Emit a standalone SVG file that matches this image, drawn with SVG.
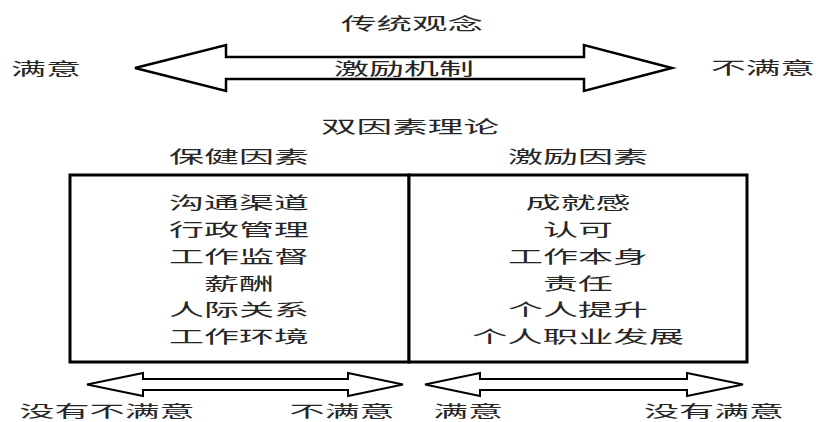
<svg xmlns="http://www.w3.org/2000/svg" width="816" height="422" viewBox="0 0 816 422">
<style>
text{font-family:"Noto Sans CJK SC","Noto Sans",sans-serif;font-size:17px;fill:#262626;text-anchor:middle;dominant-baseline:central}
text.low{font-size:16px}
.arrow{fill:#fff;stroke:#000;stroke-linejoin:miter}
.box{fill:#fff;stroke:#000;stroke-width:3}
</style>
<rect width="816" height="422" fill="#fff"/>
<g id="connectors">
<polygon class="arrow" stroke-width="2.5" points="135,68 226,45 226,57 584,57 584,45 672,68 584,91 584,79 226,79 226,91"/>
<polygon class="arrow" stroke-width="2" points="87,384.5 143,373 143,379 348,379 348,373 403,384.5 348,396 348,390 143,390 143,396"/>
<polygon class="arrow" stroke-width="2" points="425,384.5 480,373 480,379 687,379 687,373 743,384.5 687,396 687,390 480,390 480,396"/>
</g>
<g id="traditional">
<text x="412" y="22" textLength="142" lengthAdjust="spacingAndGlyphs">传统观念</text>
<text x="46" y="67" textLength="70" lengthAdjust="spacingAndGlyphs">满意</text>
<text x="404" y="67" textLength="140" lengthAdjust="spacingAndGlyphs">激励机制</text>
<text x="763" y="66" textLength="104" lengthAdjust="spacingAndGlyphs">不满意</text>
</g>
<g id="two-factor-title">
<text x="410" y="125" textLength="178" lengthAdjust="spacingAndGlyphs">双因素理论</text>
</g>
<g id="hygiene">
<text x="239" y="155" textLength="140" lengthAdjust="spacingAndGlyphs">保健因素</text>
<rect class="box" x="70" y="175" width="339" height="187"/>
<text x="239" y="201" textLength="140" lengthAdjust="spacingAndGlyphs">沟通渠道</text>
<text x="239" y="228" textLength="140" lengthAdjust="spacingAndGlyphs">行政管理</text>
<text x="239" y="255" textLength="140" lengthAdjust="spacingAndGlyphs">工作监督</text>
<text x="239" y="282" textLength="70" lengthAdjust="spacingAndGlyphs">薪酬</text>
<text x="239" y="308" textLength="140" lengthAdjust="spacingAndGlyphs">人际关系</text>
<text x="239" y="335" textLength="140" lengthAdjust="spacingAndGlyphs">工作环境</text>
</g>
<g id="motivators">
<text x="578" y="155" textLength="140" lengthAdjust="spacingAndGlyphs">激励因素</text>
<rect class="box" x="409" y="175" width="338" height="187"/>
<text x="578" y="201" textLength="105" lengthAdjust="spacingAndGlyphs">成就感</text>
<text x="578" y="228" textLength="70" lengthAdjust="spacingAndGlyphs">认可</text>
<text x="578" y="255" textLength="140" lengthAdjust="spacingAndGlyphs">工作本身</text>
<text x="578" y="282" textLength="70" lengthAdjust="spacingAndGlyphs">责任</text>
<text x="578" y="308" textLength="140" lengthAdjust="spacingAndGlyphs">个人提升</text>
<text x="578" y="335" textLength="212" lengthAdjust="spacingAndGlyphs">个人职业发展</text>
</g>
<g id="bottom-labels">
<text class="low" x="107" y="410" textLength="175" lengthAdjust="spacingAndGlyphs">没有不满意</text>
<text class="low" x="342" y="410" textLength="105" lengthAdjust="spacingAndGlyphs">不满意</text>
<text class="low" x="468" y="410" textLength="70" lengthAdjust="spacingAndGlyphs">满意</text>
<text class="low" x="714" y="410" textLength="140" lengthAdjust="spacingAndGlyphs">没有满意</text>
</g>
</svg>
